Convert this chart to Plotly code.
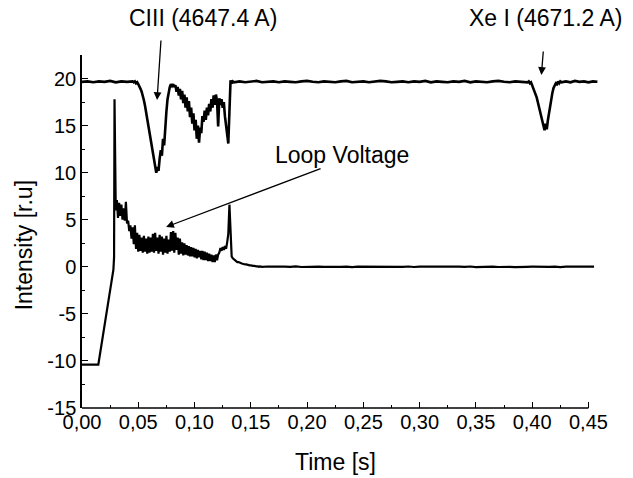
import plotly.graph_objects as go

# ---------------- data ----------------
# C III (4647.4 A) line intensity, in segments: (start time, step, values)
ciii_seg1_start, ciii_seg1_step = 0.000, 0.005
ciii_seg1 = [19.65, 19.7, 19.6, 19.7, 19.65, 19.75, 19.6, 19.7, 19.65, 19.7]

ciii_seg2_start, ciii_seg2_step = 0.046, 0.001
ciii_seg2 = [19.6, 19.7, 19.5, 19.6, 19.4, 19.2, 18.9, 18.6, 18.2, 17.7,
             17.1, 16.4, 15.7, 15.0, 14.2, 13.4, 12.7, 12.0, 11.3, 10.6,
             10.0, 10.6, 10.2, 11.5, 12.4, 11.8, 13.6, 12.9, 15.2, 16.5,
             17.8, 18.7, 19.1, 19.4, 19.2, 19.4, 19.1, 19.3, 18.6, 19.1,
             18.2, 18.9, 17.8, 18.7, 17.4, 18.3, 16.9, 18.0, 16.5, 17.6,
             15.9, 16.9, 15.2, 16.3, 14.5, 15.6, 13.6, 15.0, 13.2, 14.8,
             14.2, 16.0, 15.4, 16.6, 15.6, 16.9, 16.1, 17.3, 16.5, 17.8,
             16.9, 18.2, 17.2, 18.3, 17.6, 14.9, 17.9, 17.2, 17.8, 16.9,
             17.5, 16.0, 15.2, 14.0, 13.1, 16.5, 19.8, 19.5, 19.7, 19.6]

ciii_seg3_start, ciii_seg3_step = 0.140, 0.005
ciii_seg3 = [19.7, 19.6, 19.65, 19.75, 19.6, 19.65, 19.7, 19.6, 19.7, 19.65,
             19.6, 19.7, 19.75, 19.65, 19.6, 19.7, 19.65, 19.6, 19.7, 19.75,
             19.6, 19.65, 19.7, 19.6, 19.65, 19.75, 19.7, 19.6, 19.65, 19.7,
             19.6, 19.7, 19.65, 19.75, 19.6, 19.7, 19.65, 19.6, 19.7, 19.65,
             19.75, 19.6, 19.7, 19.65, 19.6, 19.7, 19.75, 19.65, 19.6, 19.7,
             19.65]

ciii_seg4_start, ciii_seg4_step = 0.396, 0.001
ciii_seg4 = [19.6, 19.7, 19.5, 19.6, 19.3, 19.0, 18.7, 18.3, 18.0, 17.5,
             17.0, 16.4, 16.0, 15.4, 15.0, 14.5, 15.2, 14.6, 15.6, 16.4,
             17.0, 17.8, 18.5, 19.0, 19.3, 19.5, 19.4, 19.7, 19.5, 19.7,
             19.6]

ciii_seg5_start, ciii_seg5_step = 0.430, 0.004
ciii_seg5 = [19.7, 19.6, 19.75, 19.65, 19.7, 19.6, 19.7, 19.65]

# Loop voltage
loop_start_t = [0.000, 0.005, 0.010, 0.0145, 0.0279, 0.0285, 0.0289, 0.0294]
loop_start_v = [-10.4, -10.4, -10.4, -10.4, -0.3, 1.0, 17.8, 8.0]

loop_seg2_start, loop_seg2_step = 0.030, 0.001
loop_seg2 = [6.0, 7.1, 5.2, 6.8, 5.4, 6.6, 5.0, 6.2, 4.9, 6.9,
             4.6, 4.9, 3.8, 4.4]

loop_seg3_start, loop_seg3_step = 0.044, 0.001
loop_seg3 = [3.0, 4.2, 2.4, 4.4, 1.9, 3.6, 1.6, 3.4, 1.7, 3.1,
             1.5, 3.3, 1.6, 3.0, 1.4, 3.2, 1.5, 3.1, 1.6, 3.5,
             1.5, 3.6, 1.7, 3.1, 1.4, 3.4, 1.6, 3.2, 1.3, 3.0,
             1.5, 3.3, 1.4, 2.9, 1.6, 3.7, 1.7, 3.8, 1.5, 3.6,
             1.8, 3.1, 1.3, 3.0, 1.4, 2.6, 1.2, 2.5, 1.3, 2.3]

loop_seg4_start, loop_seg4_step = 0.094, 0.001
loop_seg4 = [1.2, 2.2, 1.1, 2.1, 1.1, 2.0, 1.0, 1.9, 0.9, 1.8,
             1.0, 1.7, 0.8, 1.7, 0.7, 1.6, 0.7, 1.5, 0.6, 1.4,
             0.6, 1.3, 0.5, 1.2, 0.5, 1.3, 0.7]

loop_seg5_start, loop_seg5_step = 0.121, 0.001
loop_seg5 = [1.3, 1.5, 2.0, 1.7, 2.1, 1.8, 2.2, 1.9, 2.6, 3.5,
             6.6, 2.8, 1.1, 0.9, 0.8, 0.6, 0.6, 0.5, 0.5, 0.4,
             0.4, 0.35, 0.3, 0.3, 0.25, 0.25, 0.2, 0.2, 0.15, 0.15,
             0.1, 0.1, 0.1, 0.05, 0.05, 0.05, 0.0, 0.05, 0.0, 0.0]

loop_seg6_start, loop_seg6_step = 0.165, 0.005
loop_seg6 = [0.03, 0.0, -0.03, 0.02, 0.0, 0.04, -0.02, 0.01, -0.03, 0.02,
             0.0, -0.02, 0.03, 0.0, 0.02, -0.03, 0.01, 0.0, 0.03, -0.02,
             0.0, 0.02, -0.03, 0.01, 0.0, 0.03, -0.02, 0.02, 0.0, -0.03,
             0.01, 0.03, 0.0, -0.02, 0.02, 0.0, 0.03, -0.03, 0.01, 0.0,
             0.02, -0.02, 0.03, 0.0, -0.03, 0.02, 0.0, 0.01, -0.02, 0.03,
             0.0, 0.02, -0.03, 0.01, 0.0, -0.02, 0.03, 0.0, 0.01]

x_tickvals = [0.00, 0.05, 0.10, 0.15, 0.20, 0.25, 0.30, 0.35, 0.40, 0.45]
x_ticktext = ["0,00", "0,05", "0,10", "0,15", "0,20", "0,25", "0,30", "0,35", "0,40", "0,45"]
y_tickvals = [-15, -10, -5, 0, 5, 10, 15, 20]
y_ticktext = ["-15", "-10", "-5", "0", "5", "10", "15", "20"]


def seg_times(start, step, n):
    return [round(start + i * step, 6) for i in range(n)]


ciii_t, ciii_v = [], []
for s, st, vals in [(ciii_seg1_start, ciii_seg1_step, ciii_seg1),
                    (ciii_seg2_start, ciii_seg2_step, ciii_seg2),
                    (ciii_seg3_start, ciii_seg3_step, ciii_seg3),
                    (ciii_seg4_start, ciii_seg4_step, ciii_seg4),
                    (ciii_seg5_start, ciii_seg5_step, ciii_seg5)]:
    ciii_t += seg_times(s, st, len(vals))
    ciii_v += vals

loop_t = list(loop_start_t)
loop_v = list(loop_start_v)
for s, st, vals in [(loop_seg2_start, loop_seg2_step, loop_seg2),
                    (loop_seg3_start, loop_seg3_step, loop_seg3),
                    (loop_seg4_start, loop_seg4_step, loop_seg4),
                    (loop_seg5_start, loop_seg5_step, loop_seg5),
                    (loop_seg6_start, loop_seg6_step, loop_seg6)]:
    loop_t += seg_times(s, st, len(vals))
    loop_v += vals

FONT = "Liberation Sans, Arial, sans-serif"
TICK_SIZE = 20
TITLE_SIZE = 23

fig = go.Figure()
fig.add_trace(go.Scatter(x=ciii_t, y=ciii_v, mode="lines",
                         line=dict(color="black", width=2.6), showlegend=False))
fig.add_trace(go.Scatter(x=loop_t, y=loop_v, mode="lines",
                         line=dict(color="black", width=2.2), showlegend=False))

fig.update_layout(
    width=633, height=478,
    margin=dict(l=82, r=35, t=55, b=70),
    paper_bgcolor="white", plot_bgcolor="white",
    font=dict(family=FONT, color="black"),
    showlegend=False,
    xaxis=dict(range=[0, 0.4585], showgrid=False, zeroline=False, showline=False,
               tickvals=x_tickvals, ticktext=x_ticktext,
               ticks="inside", ticklen=6, tickwidth=1.3, tickcolor="black",
               tickfont=dict(size=TICK_SIZE, family=FONT),
               minor=dict(tickvals=[0.025, 0.075, 0.125, 0.175, 0.225, 0.275, 0.325, 0.375, 0.425],
                          ticks="inside", ticklen=3, tickwidth=1.3, tickcolor="black")),
    yaxis=dict(range=[-15, 22.5], showgrid=False, zeroline=False, showline=True,
               linecolor="black", linewidth=1.5,
               tickvals=y_tickvals, ticktext=y_ticktext,
               ticks="inside", ticklen=6, tickwidth=1.3, tickcolor="black",
               tickfont=dict(size=TICK_SIZE, family=FONT),
               minor=dict(tickvals=[-12.5, -7.5, -2.5, 2.5, 7.5, 12.5, 17.5, 22.5],
                          ticks="inside", ticklen=3, tickwidth=1.3, tickcolor="black")),
)

# bottom axis line only up to 0.45
fig.add_shape(type="line", xref="x", yref="paper", x0=0, x1=0.45, y0=0, y1=0,
              line=dict(color="black", width=1.5))

# axis titles
fig.add_annotation(text="Time [s]", xref="x", yref="paper", x=0.225, y=-0.153,
                   showarrow=False, font=dict(size=TITLE_SIZE, family=FONT), yanchor="middle")
fig.add_annotation(text="Intensity [r.u]", xref="paper", yref="y", x=-0.112, y=2.3,
                   textangle=-90, showarrow=False, font=dict(size=TITLE_SIZE, family=FONT),
                   xanchor="center", yanchor="middle")

# labels (paper coordinates, above the plot area)
fig.add_annotation(text="CIII (4647.4 A)", xref="paper", yref="paper", x=0.2345, y=1.1048,
                   showarrow=False, font=dict(size=TITLE_SIZE, family=FONT),
                   xanchor="center", yanchor="middle")
fig.add_annotation(text="Xe I (4671.2 A)", xref="paper", yref="paper", x=0.8973, y=1.1048,
                   showarrow=False, font=dict(size=TITLE_SIZE, family=FONT),
                   xanchor="center", yanchor="middle")
fig.add_annotation(text="Loop Voltage", xref="x", yref="y", x=0.2312, y=11.88,
                   showarrow=False, font=dict(size=TITLE_SIZE, family=FONT))

# arrows
for hx, hy, ax, ay in [(0.0667, 17.72, 4, -61), (0.4082, 20.38, 2, -25), (0.0747, 4.23, 156, -59)]:
    fig.add_annotation(text="", x=hx, y=hy, xref="x", yref="y", ax=ax, ay=ay,
                       showarrow=True, arrowhead=2, arrowsize=1.2, arrowwidth=1.3,
                       arrowcolor="black", standoff=0)

fig.write_html("out.html")
